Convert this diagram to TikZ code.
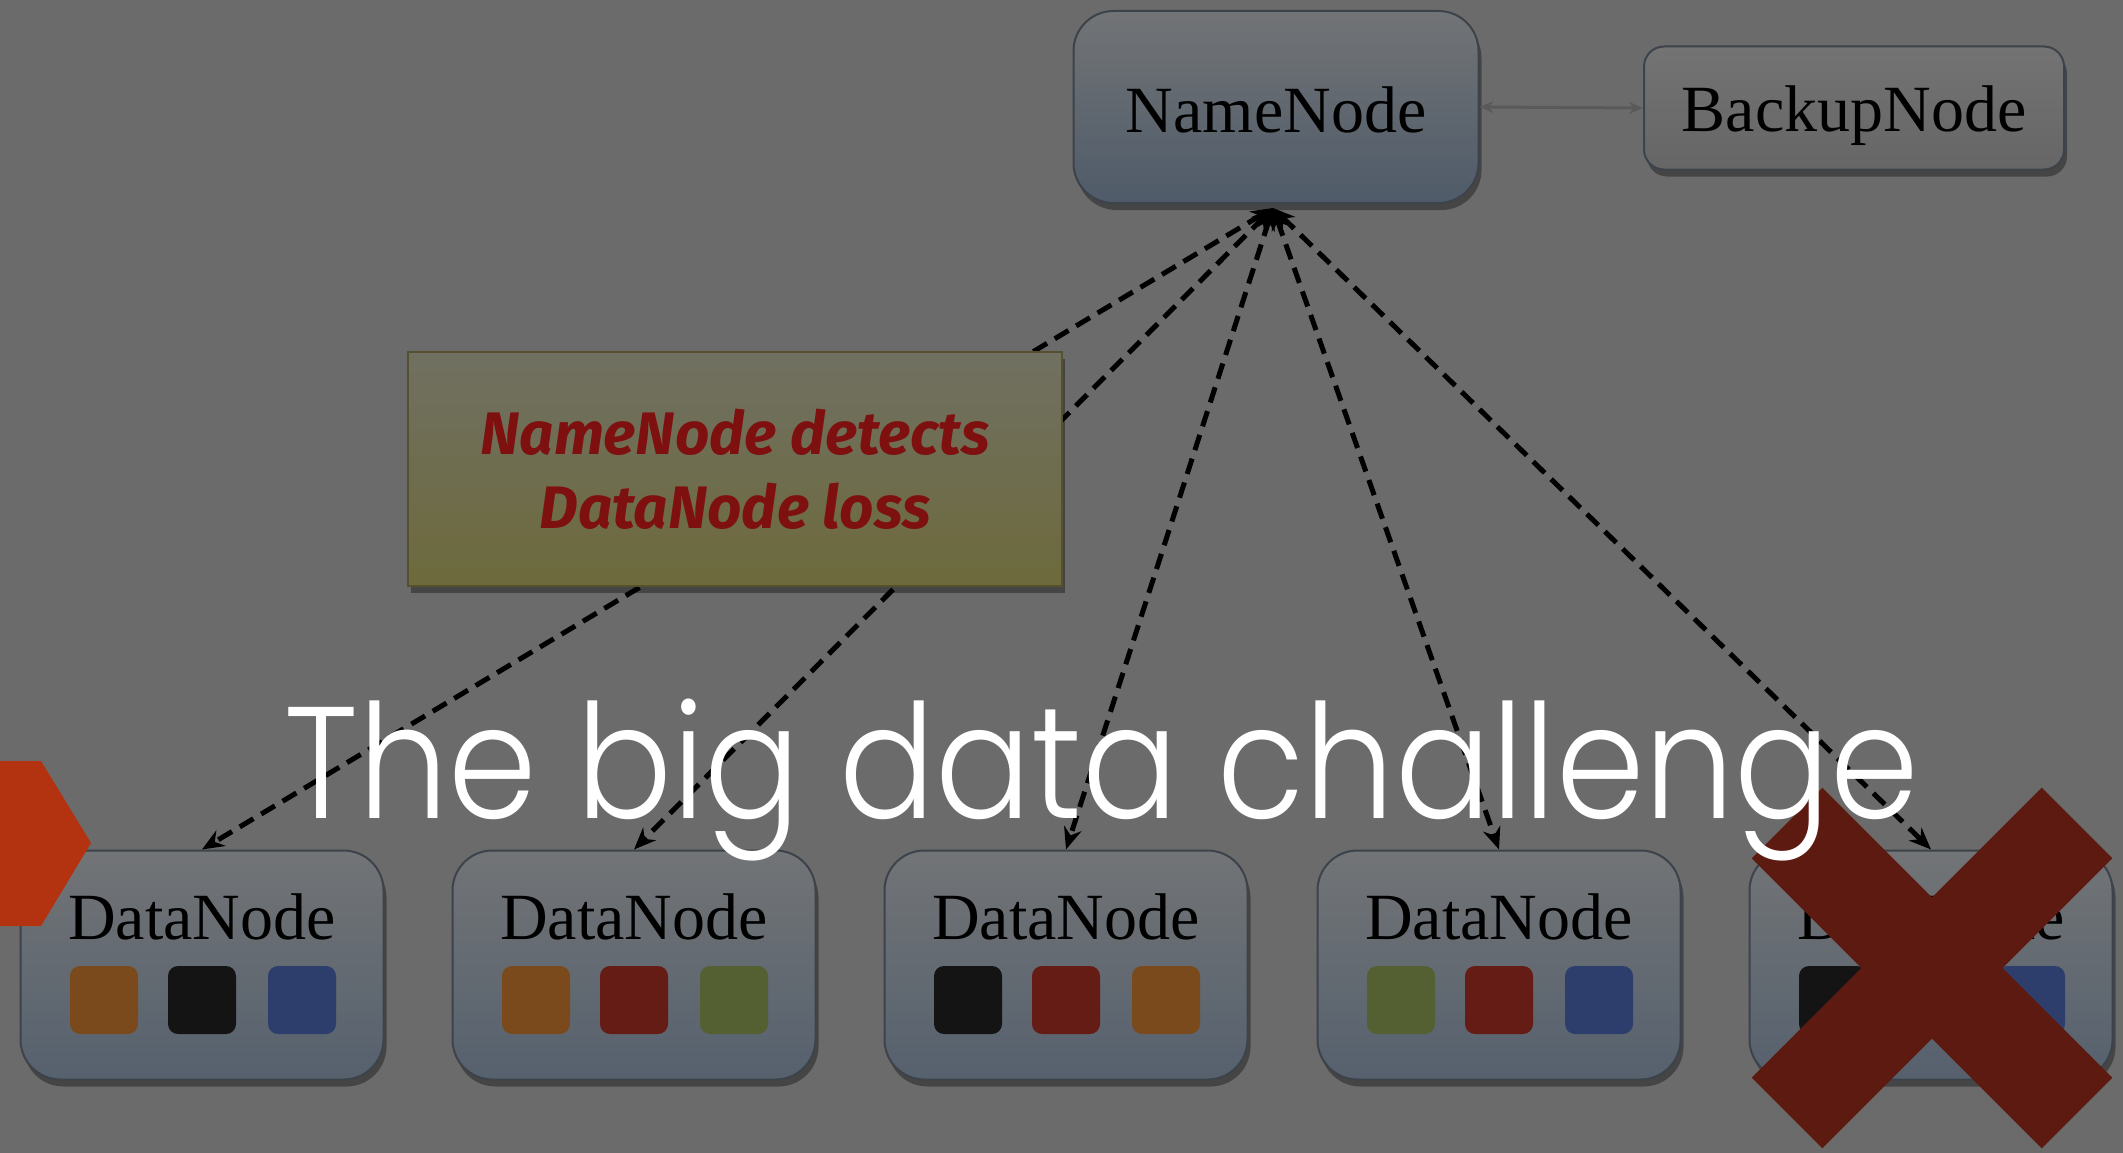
\documentclass[tikz,border=0pt]{standalone}
\usepackage{fontspec}
\setmainfont{Liberation Serif}
\newfontfamily\titlefont{Poppins Light}
\newfontfamily\handfont{Fira Sans}
\usetikzlibrary{arrows.meta,shadows}
\definecolor{bg}{HTML}{6B6B6B}
\definecolor{nntop}{HTML}{727476}
\definecolor{nnbot}{HTML}{4F5B69}
\definecolor{boxline}{HTML}{3C434B}
\definecolor{bntop}{HTML}{737373}
\definecolor{bnbot}{HTML}{666666}
\definecolor{dntop}{HTML}{727476}
\definecolor{dnbot}{HTML}{56616E}
\definecolor{notetop}{HTML}{707062}
\definecolor{notebot}{HTML}{6D6A3C}
\definecolor{noteline}{HTML}{56502E}
\definecolor{notetext}{HTML}{7E1010}
\definecolor{sqorange}{HTML}{7A4A1C}
\definecolor{sqblack}{HTML}{141414}
\definecolor{sqblue}{HTML}{2E3E6C}
\definecolor{sqred}{HTML}{651C14}
\definecolor{sqgreen}{HTML}{556032}
\definecolor{xred}{HTML}{5C1A10}
\definecolor{chev}{HTML}{B3320F}
\definecolor{grayarrow}{HTML}{5A5A5A}
\begin{document}
\begin{tikzpicture}[x=1pt,y=-1pt,
  shad/.style={drop shadow={shadow xshift=3pt,shadow yshift=-7pt,opacity=0.35,fill=black}},
  nnbox/.style={shad,draw=boxline,line width=2pt,rounded corners=40pt,minimum width=405pt,minimum height=192pt,top color=nntop,bottom color=nnbot,inner sep=0pt},
  bnbox/.style={shad,draw=boxline,line width=2pt,rounded corners=20pt,minimum width=420pt,minimum height=123pt,top color=bntop,bottom color=bnbot,inner sep=0pt},
  dnbox/.style={shad,draw=boxline,line width=2pt,rounded corners=40pt,minimum width=363pt,minimum height=229pt,top color=dntop,bottom color=dnbot,inner sep=0pt},
  notebox/.style={shad,draw=noteline,line width=2.5pt,minimum width=654pt,minimum height=234pt,top color=notetop,bottom color=notebot,align=center,text=notetext,font=\handfont\itshape\bfseries\fontsize{60}{74}\selectfont},
  lbl/.style={font=\fontsize{66}{66}\selectfont,text=black,inner sep=0pt},
  sq/.style={minimum size=68pt,inner sep=0pt,rounded corners=10pt},
  link/.style={draw=black,line width=5pt,dash pattern=on 16pt off 9pt,{Stealth[length=22pt,width=18pt]}-{Stealth[length=22pt,width=18pt]}},
  xmark/.style={draw=xred,line width=100pt}]
\useasboundingbox (0,0) rectangle (2123,1153);
\fill[bg] (0,0) rectangle (2123,1153);
% top nodes
\node[nnbox] (nn) at (1276,107) {};
\node[lbl] (nnt) at (1276,110) {NameNode};
\node[bnbox] (bn) at (1854,108) {};
\node[lbl] (bnt) at (1854,116) {BackupNode};
\draw[draw=grayarrow,line width=3pt,{Stealth[length=14pt,width=12pt]}-{Stealth[length=14pt,width=12pt]}] (nn.east) -- (bn.west);
\coordinate (nnb) at (1273,208);
% data nodes
\foreach \i/\cx/\ca/\cb/\cc in {1/202/sqorange/sqblack/sqblue,2/634/sqorange/sqred/sqgreen,3/1066/sqblack/sqred/sqorange,4/1499/sqgreen/sqred/sqblue,5/1931/sqblack/sqred/sqblue}{
  \node[dnbox] (dn\i) at (\cx,965) {};
  \node[lbl] (dt\i) at (\cx,917) {DataNode};
  \node[sq,fill=\ca] (sa\i) at (\cx-98,1000) {};
  \node[sq,fill=\cb] (sb\i) at (\cx,1000) {};
  \node[sq,fill=\cc] (sc\i) at (\cx+100,1000) {};
}
\foreach \i in {1,...,5}{\draw[link] (nnb) -- (dn\i.north);}
% note
\node[notebox] (note) at (735,469) {NameNode detects\\DataNode loss};
% X mark
\draw[xmark] (1787,823) -- (2077,1113);
\draw[xmark] (2077,823) -- (1787,1113);
% title
\node[anchor=base,text=white,inner sep=0pt,font=\titlefont\fontsize{159}{159}\selectfont] (title) at (1102,818) {\scalebox{0.895}[1]{The big data challenge}};
% chevron
\fill[chev] (0,761) -- (41,761) -- (91,843) -- (41,926) -- (0,926) -- cycle;
\end{tikzpicture}
\end{document}
